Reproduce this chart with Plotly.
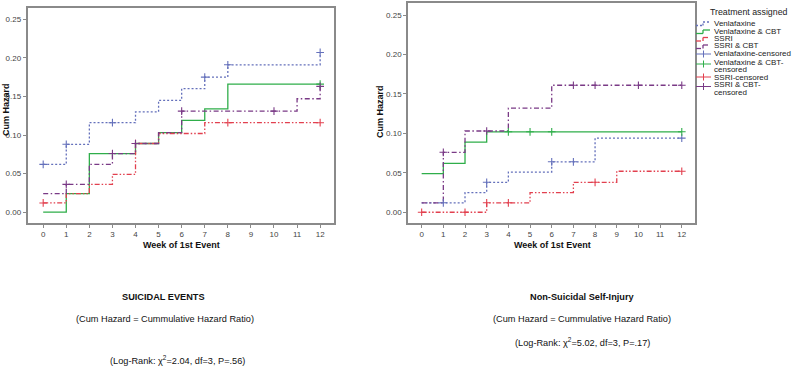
import plotly.graph_objects as go

W, H = 800, 367

# ---------------- data ----------------
weeks_ticks = list(range(0, 13))
y_ticks = [0.00, 0.05, 0.10, 0.15, 0.20, 0.25]
y_tick_labels = ["0.00", "0.05", "0.10", "0.15", "0.20", "0.25"]

groups = ["Venlafaxine", "Venlafaxine & CBT", "SSRI", "SSRI & CBT"]

# Suicidal events (left panel): step change times and cumulative hazards
se_ven_t = [0, 1, 2, 4, 5, 6, 7, 8, 12]
se_ven_h = [0.062, 0.088, 0.116, 0.130, 0.145, 0.160, 0.175, 0.191, 0.207]
se_ven_ct = [0, 1, 3, 7, 8, 12]
se_ven_ch = [0.062, 0.088, 0.116, 0.175, 0.191, 0.207]

se_vcbt_t = [0, 1, 2, 4, 5, 6, 7, 8, 12]
se_vcbt_h = [0.000, 0.024, 0.076, 0.089, 0.103, 0.119, 0.134, 0.166, 0.166]
se_vcbt_ct = [12]
se_vcbt_ch = [0.166]

se_ssri_t = [0, 1, 2, 3, 4, 5, 7, 12]
se_ssri_h = [0.012, 0.024, 0.036, 0.049, 0.089, 0.102, 0.116, 0.116]
se_ssri_ct = [0, 4, 8, 12]
se_ssri_ch = [0.012, 0.089, 0.116, 0.116]

se_scbt_t = [0, 1, 2, 3, 4, 5, 6, 11, 12]
se_scbt_h = [0.024, 0.036, 0.062, 0.076, 0.089, 0.103, 0.131, 0.147, 0.163]
se_scbt_ct = [1, 3, 4, 6, 10, 12]
se_scbt_ch = [0.036, 0.076, 0.089, 0.131, 0.131, 0.163]

# Non-suicidal self-injury (right panel)
ns_ven_t = [0, 2, 3, 4, 6, 8, 12]
ns_ven_h = [0.012, 0.025, 0.038, 0.051, 0.064, 0.094, 0.094]
ns_ven_ct = [1, 3, 6, 7, 12]
ns_ven_ch = [0.012, 0.038, 0.064, 0.064, 0.094]

ns_vcbt_t = [0, 1, 2, 3, 12]
ns_vcbt_h = [0.049, 0.062, 0.089, 0.102, 0.102]
ns_vcbt_ct = [4, 5, 6, 12]
ns_vcbt_ch = [0.102, 0.102, 0.102, 0.102]

ns_ssri_t = [0, 3, 5, 7, 9, 12]
ns_ssri_h = [0.000, 0.012, 0.025, 0.038, 0.052, 0.052]
ns_ssri_ct = [0, 2, 3, 4, 8, 12]
ns_ssri_ch = [0.000, 0.000, 0.012, 0.012, 0.038, 0.052]

ns_scbt_t = [0, 1, 2, 4, 6, 12]
ns_scbt_h = [0.012, 0.076, 0.103, 0.132, 0.161, 0.161]
ns_scbt_ct = [1, 3, 7, 8, 10, 12]
ns_scbt_ch = [0.076, 0.103, 0.161, 0.161, 0.161, 0.161]

# ---------------- styles ----------------
COL = {
    "Venlafaxine": "#6470bb",
    "Venlafaxine & CBT": "#2fae4a",
    "SSRI": "#e2404f",
    "SSRI & CBT": "#7a3a86",
}
DASH = {
    "Venlafaxine": "2px,2px",
    "Venlafaxine & CBT": "solid",
    "SSRI": "5px,2px,1.5px,2px,1.5px,2px",
    "SSRI & CBT": "5px,2.5px,1.5px,2.5px",
}

def px2x(px):
    return px / W

def px2y(py):
    return 1 - py / H

fig = go.Figure()

panels = [
    ("x", "y", [
        ("Venlafaxine", se_ven_t, se_ven_h, se_ven_ct, se_ven_ch),
        ("Venlafaxine & CBT", se_vcbt_t, se_vcbt_h, se_vcbt_ct, se_vcbt_ch),
        ("SSRI", se_ssri_t, se_ssri_h, se_ssri_ct, se_ssri_ch),
        ("SSRI & CBT", se_scbt_t, se_scbt_h, se_scbt_ct, se_scbt_ch),
    ]),
    ("x2", "y2", [
        ("Venlafaxine", ns_ven_t, ns_ven_h, ns_ven_ct, ns_ven_ch),
        ("Venlafaxine & CBT", ns_vcbt_t, ns_vcbt_h, ns_vcbt_ct, ns_vcbt_ch),
        ("SSRI", ns_ssri_t, ns_ssri_h, ns_ssri_ct, ns_ssri_ch),
        ("SSRI & CBT", ns_scbt_t, ns_scbt_h, ns_scbt_ct, ns_scbt_ch),
    ]),
]

for xa, ya, series in panels:
    for name, t, h, ct, ch in series:
        fig.add_trace(go.Scatter(
            x=t, y=h, mode="lines", line_shape="hv", xaxis=xa, yaxis=ya,
            line=dict(color=COL[name], width=1.3, dash=DASH[name]),
            showlegend=False, hoverinfo="skip"))
    for name, t, h, ct, ch in series:
        fig.add_trace(go.Scatter(
            x=ct, y=ch, mode="markers", xaxis=xa, yaxis=ya,
            marker=dict(symbol="cross-thin", size=5.5,
                        line=dict(color=COL[name], width=1.1)),
            showlegend=False, hoverinfo="skip"))

tickfont = dict(family="Liberation Sans, Arial", size=8, color="#444444")
axis_common = dict(showline=True, linecolor="#8a8a8a", linewidth=1.5, mirror=True,
                   ticks="outside", ticklen=3, tickcolor="#8a8a8a", tickwidth=1,
                   showgrid=False, zeroline=False, tickfont=tickfont)

fig.update_layout(
    width=W, height=H, margin=dict(l=0, r=0, t=0, b=0),
    paper_bgcolor="white", plot_bgcolor="white", showlegend=False,
    xaxis=dict(domain=[px2x(27.5), px2x(334)], range=[-0.68, 12.6],
               tickvals=weeks_ticks, ticktext=[str(w) for w in weeks_ticks], anchor="y", **axis_common),
    yaxis=dict(domain=[px2y(223), px2y(8)], range=[-0.014, 0.2646],
               tickvals=y_ticks, ticktext=y_tick_labels, anchor="x", **axis_common),
    xaxis2=dict(domain=[px2x(408), px2x(695)], range=[-0.63, 12.61],
                tickvals=weeks_ticks, ticktext=[str(w) for w in weeks_ticks], anchor="y2", **axis_common),
    yaxis2=dict(domain=[px2y(223), px2y(3)], range=[-0.0136, 0.2653],
                tickvals=y_ticks, ticktext=y_tick_labels, anchor="x2", **axis_common),
)

ann = []
bold = dict(family="Liberation Sans, Arial", size=9, color="#111111")
# axis titles
ann.append(dict(x=px2x(181), y=px2y(245), text="<b>Week of 1st Event</b>", font=bold))
ann.append(dict(x=px2x(552), y=px2y(245), text="<b>Week of 1st Event</b>", font=bold))
ann.append(dict(x=px2x(6), y=px2y(110), text="<b>Cum Hazard</b>", textangle=-90, font=bold))
ann.append(dict(x=px2x(380), y=px2y(112), text="<b>Cum Hazard</b>", textangle=-90, font=bold))

# captions
cap = dict(family="Liberation Sans, Arial", size=9.2, color="#111111")
ann.append(dict(x=px2x(163), y=px2y(297), text="<b>SUICIDAL EVENTS</b>", font=cap))
ann.append(dict(x=px2x(165), y=px2y(319), text="(Cum Hazard = Cummulative Hazard Ratio)", font=cap))
ann.append(dict(x=px2x(177), y=px2y(360), text="(Log-Rank: χ<sup>2</sup>=2.04, df=3, P=.56)", font=cap))
ann.append(dict(x=px2x(582), y=px2y(297), text="<b>Non-Suicidal Self-Injury</b>", font=cap))
ann.append(dict(x=px2x(582), y=px2y(319), text="(Cum Hazard = Cummulative Hazard Ratio)", font=cap))
ann.append(dict(x=px2x(582), y=px2y(342), text="(Log-Rank: χ<sup>2</sup>=5.02, df=3, P=.17)", font=cap))

# manual legend
lf = dict(family="Liberation Sans, Arial", size=8, color="#222222")
ann.append(dict(x=px2x(708), y=px2y(12), text="Treatment assigned", font=dict(lf, size=8.8), xanchor="left"))
legend_rows = [
    ("Venlafaxine", 23), ("Venlafaxine & CBT", 31), ("SSRI", 38.5), ("SSRI & CBT", 46),
]
for name, yy in legend_rows:
    ann.append(dict(x=px2x(712), y=px2y(yy), text=name, font=lf, xanchor="left"))
cens_rows = [
    ("Venlafaxine", ["Venlafaxine-censored"], 54),
    ("Venlafaxine & CBT", ["Venlafaxine & CBT-", "censored"], 62),
    ("SSRI", ["SSRI-censored"], 77),
    ("SSRI & CBT", ["SSRI & CBT-", "censored"], 84.5),
]
for name, lines, yy in cens_rows:
    for i, ln in enumerate(lines):
        ann.append(dict(x=px2x(712), y=px2y(yy + 7.6 * i), text=ln, font=lf, xanchor="left"))

for a in ann:
    a.setdefault("xref", "paper")
    a.setdefault("yref", "paper")
    a.setdefault("showarrow", False)
    a.setdefault("xanchor", "center")
    a.setdefault("yanchor", "middle")
fig.update_layout(annotations=ann)

shapes = []
for name, yy in legend_rows:
    c, d = COL[name], DASH[name]
    ln = dict(color=c, width=1.3, dash=d)
    shapes.append(dict(type="line", xref="paper", yref="paper", x0=px2x(696), x1=px2x(703),
                       y0=px2y(yy + 2.5), y1=px2y(yy + 2.5), line=ln))
    shapes.append(dict(type="line", xref="paper", yref="paper", x0=px2x(703), x1=px2x(703),
                       y0=px2y(yy + 2.5), y1=px2y(yy - 1), line=ln))
    shapes.append(dict(type="line", xref="paper", yref="paper", x0=px2x(703), x1=px2x(710),
                       y0=px2y(yy - 1), y1=px2y(yy - 1), line=ln))
for name, lines, yy in cens_rows:
    c = COL[name]
    gy = yy + (2 if len(lines) > 1 else 0)
    shapes.append(dict(type="line", xref="paper", yref="paper", x0=px2x(696), x1=px2x(711),
                       y0=px2y(gy), y1=px2y(gy), line=dict(color=c, width=1)))
    shapes.append(dict(type="line", xref="paper", yref="paper", x0=px2x(703.5), x1=px2x(703.5),
                       y0=px2y(gy - 3.5), y1=px2y(gy + 3.5), line=dict(color=c, width=1)))
fig.update_layout(shapes=shapes)

fig.write_html("out.html", config={"displayModeBar": False},
               post_script="document.body.style.margin='0';document.body.style.overflow='hidden';")
